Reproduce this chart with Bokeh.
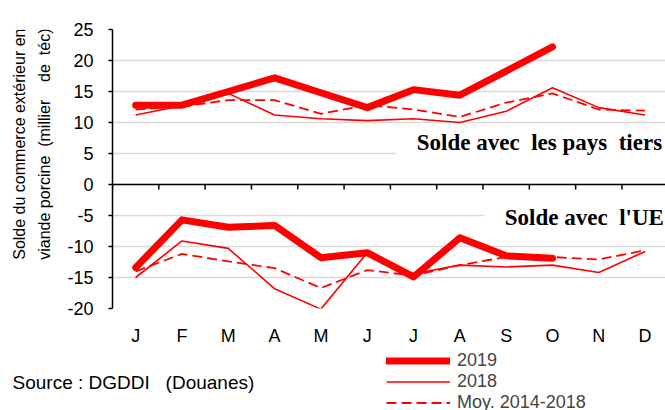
import numpy as np
from bokeh.plotting import figure
from bokeh.layouts import column, row
from bokeh.models import (Range1d, FixedTicker, Span, Label, Legend, LegendItem,
                          BoxAnnotation)
from bokeh.embed import file_html
from bokeh.resources import INLINE

# ---------------- data ----------------
months = ["J", "F", "M", "A", "M", "J", "J", "A", "S", "O", "N", "D"]

tiers_2019 = [12.8, 12.8, 15.0, 17.2, 14.8, 12.4, 15.3, 14.4, 18.3, 22.2]
tiers_2018 = [11.2, 12.7, 14.7, 11.2, 10.6, 10.3, 10.6, 10.0, 11.8, 15.6, 12.4, 11.2]
tiers_moy = [12.1, 12.6, 13.6, 13.6, 11.4, 12.8, 12.1, 10.9, 13.2, 14.7, 12.1, 11.9]

ue_2019 = [-13.4, -5.7, -6.9, -6.6, -11.8, -11.0, -14.9, -8.6, -11.5, -11.9]
ue_2018 = [-15.0, -9.1, -10.3, -16.8, -20.1, -11.0, -14.4, -13.0, -13.3, -13.0, -14.2, -10.8]
ue_moy = [-14.0, -11.2, -12.4, -13.5, -16.7, -13.8, -14.7, -13.0, -11.7, -11.7, -12.1, -10.6]

y_ticks = [-20, -15, -10, -5, 0, 5, 10, 15, 20, 25]
legend_labels = ["2019", "2018", "Moy. 2014-2018"]
NB = "\u00a0"
ytitle_lines = ["Solde du commerce extérieur en",
                "viande porcine" + NB + " (millier" + NB * 3 + " de" + NB + " téc)"]
label_tiers = "Solde avec" + NB + " les pays" + NB + " tiers"
label_ue = "Solde avec" + NB + " l'UE"
source_text = "Source : DGDDI" + NB * 2 + " (Douanes)"

# ---------------- styles ----------------
RED = "#ff0000"
SANS = "Liberation Sans"
SERIF = "Liberation Serif"
S2019 = dict(line_color=RED, line_width=7, line_cap="round", line_join="round")
S2018 = dict(line_color=RED, line_width=1.6)
SMOY = dict(line_color=RED, line_width=1.8, line_dash="10 5")

LEFT_W = 60
TOP_H = 348
W, H = 665, 410

x_all = np.arange(len(months)) + 0.5
bounds = np.arange(len(months) + 1)


def blank(width, height, xr, yr):
    f = figure(width=width, height=height, output_backend="svg", toolbar_location=None,
               x_range=Range1d(*xr), y_range=Range1d(*yr),
               x_axis_type=None, y_axis_type=None, min_border=0)
    f.outline_line_color = None
    f.grid.grid_line_color = None
    return f


# ---------------- main chart ----------------
p = figure(width=W - LEFT_W, height=TOP_H, output_backend="svg", toolbar_location=None,
           x_range=Range1d(0, 11.94), y_range=Range1d(-20, 25),
           min_border_left=112 - LEFT_W, min_border_right=0, min_border_top=29,
           min_border_bottom=37)
p.outline_line_color = None

p.xaxis.ticker = FixedTicker(ticks=list(x_all))
p.xaxis.major_label_overrides = {float(x): m for x, m in zip(x_all, months)}
p.xaxis.axis_line_color = None
p.xaxis.major_tick_line_color = None
p.xaxis.minor_tick_line_color = None
p.xaxis.major_label_standoff = 11
p.xaxis.major_label_text_font = SANS
p.xaxis.major_label_text_font_size = "18px"
p.xaxis.major_label_text_color = "black"

p.yaxis.ticker = FixedTicker(ticks=y_ticks)
p.yaxis.major_label_overrides = {v: str(v) for v in y_ticks}
p.yaxis.axis_line_color = "black"
p.yaxis.axis_line_width = 1.5
p.yaxis.major_tick_line_color = "black"
p.yaxis.major_tick_line_width = 1.5
p.yaxis.major_tick_out = 4
p.yaxis.major_tick_in = 0
p.yaxis.minor_tick_line_color = None
p.yaxis.major_label_standoff = 15
p.yaxis.major_label_text_font = SANS
p.yaxis.major_label_text_font_size = "18px"
p.yaxis.major_label_text_color = "black"

p.xgrid.grid_line_color = None
p.ygrid.ticker = FixedTicker(ticks=y_ticks)
p.ygrid.grid_line_color = "#d9d9d9"
p.ygrid.grid_line_width = 1.5

# zero axis with category tick marks
p.add_layout(Span(location=0, dimension="width", line_color="black", line_width=1.5))
p.segment(x0=bounds, y0=0, x1=bounds, y1=-0.8, line_color="black", line_width=1.5)

for vals in (tiers_moy, ue_moy):
    p.line(x_all[:len(vals)], vals, **SMOY)
for vals in (tiers_2018, ue_2018):
    p.line(x_all[:len(vals)], vals, **S2018)
for vals in (tiers_2019, ue_2019):
    p.line(x_all[:len(vals)], vals, **S2019)

# white text boxes
p.add_layout(BoxAnnotation(left=6.13, right=11.94, bottom=2.5, top=9.2,
                           fill_color="white", fill_alpha=1, line_color=None))
p.add_layout(BoxAnnotation(left=8.03, right=11.94, bottom=-8.6, top=-1.6,
                           fill_color="white", fill_alpha=1, line_color=None))
p.add_layout(Label(x=6.57, y=6.85, text=label_tiers, text_font=SERIF,
                   text_font_style="bold", text_font_size="23px",
                   text_color="black", text_baseline="middle"))
p.add_layout(Label(x=8.47, y=-5.25, text=label_ue, text_font=SERIF,
                   text_font_style="bold", text_font_size="23px",
                   text_color="black", text_baseline="middle"))

# ---------------- y title panel ----------------
lf = blank(LEFT_W, TOP_H, (0, LEFT_W), (0, TOP_H))
for xx, txt in zip([19, 44], ytitle_lines):
    lf.add_layout(Label(x=xx, y=TOP_H - 143, text=txt, angle=np.pi / 2,
                        text_align="center", text_baseline="middle",
                        text_font=SANS, text_font_size="16px", text_color="black"))

# ---------------- legend / source panel ----------------
BOT_H = H - TOP_H
q = blank(W, BOT_H, (0, W), (0, BOT_H))
q.add_layout(Label(x=12, y=BOT_H - 33.7, text=source_text, text_align="left",
                   text_baseline="middle", text_font=SANS, text_font_size="19px",
                   text_color="black"))
# legend-only renderers, placed outside the visible range
off = [-50, -40]
l19 = q.line(off, off, **S2019)
l18 = q.line(off, off, **S2018)
lmo = q.line(off, off, **SMOY)
legend = Legend(items=[LegendItem(label=legend_labels[0], renderers=[l19]),
                       LegendItem(label=legend_labels[1], renderers=[l18]),
                       LegendItem(label=legend_labels[2], renderers=[lmo])],
                location=(386, -3), orientation="vertical",
                glyph_width=64, glyph_height=21, label_height=21, spacing=0,
                padding=0, margin=0, border_line_color=None,
                background_fill_alpha=0, label_text_font=SANS,
                label_text_font_size="18px", label_standoff=7)
q.add_layout(legend)

layout = column(row(lf, p), q)
open("out.html", "w").write(file_html(layout, INLINE))
